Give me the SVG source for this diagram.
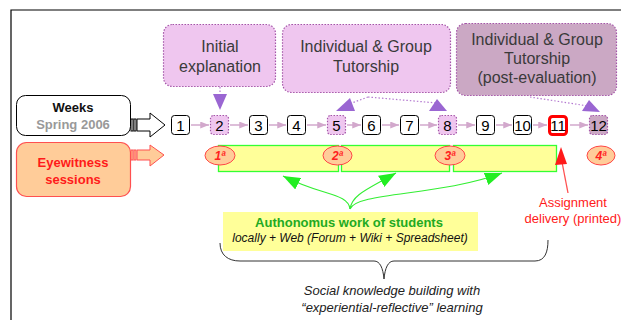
<svg xmlns="http://www.w3.org/2000/svg" width="621" height="320" viewBox="0 0 621 320">
<defs>
<style>
text{font-family:"Liberation Sans",Arial,sans-serif}
.frame{fill:none;stroke:#000;stroke-width:1.2}
.pinkbox{fill:#efc6ef;stroke:#a455a8;stroke-width:1.2;stroke-dasharray:1.5 1.5}
.mauvebox{fill:#cba8c4;stroke:#a455a8;stroke-width:1.2;stroke-dasharray:1.5 1.5}
.boxtxt{font-size:16px;fill:#3a3a3a;text-anchor:middle}
.wk{fill:#fff;stroke:#000;stroke-width:1}
.wkp{fill:#efc6ef;stroke:#a455a8;stroke-width:1.2;stroke-dasharray:1.5 1.5}
.wkm{fill:#cba8c4;stroke:#a455a8;stroke-width:1.2;stroke-dasharray:1.5 1.5}
.num{font-size:15px;fill:#000;text-anchor:middle}
.wline{stroke:#d2a8cc;stroke-width:1.5;fill:none}
.dot{stroke:#b47ad0;stroke-width:1.2;stroke-dasharray:1.5 2;fill:none}
.phead{fill:#9a66d2}
.oval{fill:#ffcc99;stroke:#ff4444;stroke-width:1}
.ord{font-size:12px;font-weight:bold;font-style:italic;fill:#ff2020;text-anchor:middle}
.ylw{fill:#ffff99;stroke:#33ff33;stroke-width:1.3}
.gline{stroke:#33ee33;stroke-width:1.1;fill:none}
</style>
<marker id="wa" viewBox="0 0 10 8" refX="10" refY="4" markerWidth="9" markerHeight="7" markerUnits="userSpaceOnUse" orient="auto">
<path d="M0,0 L10,4 L0,8 z" fill="#d2a8cc"/>
</marker>
<marker id="ga" viewBox="0 0 16 12" refX="16" refY="6" markerWidth="17" markerHeight="13" markerUnits="userSpaceOnUse" orient="auto">
<path d="M0,0 L16,6 L0,12 z" fill="#22ee22"/>
</marker>
</defs>
<rect width="621" height="320" fill="#fff"/>
<path class="frame" d="M11,320 L11,10 L621,10"/>

<g id="initial-explanation">
<rect class="pinkbox" x="163.5" y="24.5" width="112" height="62" rx="9"/>
<text class="boxtxt" x="220" y="52">Initial</text>
<text class="boxtxt" x="220" y="72">explanation</text>
</g>
<g id="tutorship">
<rect class="pinkbox" x="282.5" y="24.5" width="168" height="68" rx="9"/>
<text class="boxtxt" x="366" y="52">Individual &amp; Group</text>
<text class="boxtxt" x="366" y="72">Tutorship</text>
</g>
<g id="tutorship-post">
<rect class="mauvebox" x="456.5" y="23.5" width="160" height="72" rx="9"/>
<text class="boxtxt" x="537" y="45">Individual &amp; Group</text>
<text class="boxtxt" x="537" y="64">Tutorship</text>
<text class="boxtxt" x="537" y="83">(post-evaluation)</text>
</g>

<g id="weeks">
<rect x="16.5" y="95.5" width="114" height="40" rx="9" fill="#fff" stroke="#000" stroke-width="1"/>
<text x="73" y="112" font-size="13" font-weight="bold" fill="#111" text-anchor="middle">Weeks</text>
<text x="73" y="129" font-size="13" font-weight="bold" fill="#999" text-anchor="middle">Spring 2006</text>
</g>
<g id="eyewitness">
<rect x="16.5" y="142.5" width="114" height="54" rx="10" fill="#ffcc99" stroke="#ff5050" stroke-width="1.2"/>
<text x="73" y="167" font-size="13" font-weight="bold" fill="#ff1a1a" text-anchor="middle">Eyewitness</text>
<text x="73" y="184" font-size="13" font-weight="bold" fill="#ff1a1a" text-anchor="middle">sessions</text>
</g>

<g id="w1"><rect class="wk" x="171.5" y="115.5" width="18" height="19" rx="3"/><text class="num" x="180.5" y="131">1</text></g>
<g id="w2"><rect class="wkp" x="210.5" y="115.5" width="18" height="19" rx="3"/><text class="num" x="219.5" y="131">2</text></g>
<g id="w3"><rect class="wk" x="249.5" y="115.5" width="18" height="19" rx="3"/><text class="num" x="258.5" y="131">3</text></g>
<g id="w4"><rect class="wk" x="287.5" y="115.5" width="18" height="19" rx="3"/><text class="num" x="296.5" y="131">4</text></g>
<g id="w5"><rect class="wkp" x="327.5" y="115.5" width="18" height="19" rx="3"/><text class="num" x="336.5" y="131">5</text></g>
<g id="w6"><rect class="wk" x="362.5" y="115.5" width="18" height="19" rx="3"/><text class="num" x="371.5" y="131">6</text></g>
<g id="w7"><rect class="wk" x="400.5" y="115.5" width="18" height="19" rx="3"/><text class="num" x="409.5" y="131">7</text></g>
<g id="w8"><rect class="wkp" x="438.5" y="115.5" width="18" height="19" rx="3"/><text class="num" x="447.5" y="131">8</text></g>
<g id="w9"><rect class="wk" x="476.5" y="115.5" width="18" height="19" rx="3"/><text class="num" x="485.5" y="131">9</text></g>
<g id="w10"><rect class="wk" x="513.5" y="115.5" width="18" height="19" rx="3"/><text class="num" x="522.5" y="131">10</text></g>
<g id="w11"><rect x="549.5" y="116.5" width="17" height="18" rx="3" fill="#fff" stroke="#ff0000" stroke-width="3"/><text class="num" x="558" y="131">11</text></g>
<g id="w12"><rect class="wkm" x="589.5" y="115.5" width="18" height="19" rx="3"/><text class="num" x="598.5" y="131">12</text></g>

<g id="work-blocks">
<rect class="ylw" x="218.5" y="145.5" width="120" height="26"/>
<rect class="ylw" x="341.5" y="145.5" width="108" height="26"/>
<rect class="ylw" x="453.5" y="145.5" width="103" height="26"/>
</g>
<g id="s1"><ellipse class="oval" cx="220" cy="155.5" rx="15" ry="9.5"/><text class="ord" x="220" y="160">1ª</text></g>
<g id="s2"><ellipse class="oval" cx="337.5" cy="155.5" rx="14.5" ry="9.5"/><text class="ord" x="337.5" y="160">2ª</text></g>
<g id="s3"><ellipse class="oval" cx="450" cy="155.5" rx="15" ry="9.5"/><text class="ord" x="450" y="160">3ª</text></g>
<g id="s4"><ellipse class="oval" cx="601" cy="155.5" rx="14" ry="9.5"/><text class="ord" x="601" y="160">4ª</text></g>

<g id="authonomus">
<rect x="223" y="212" width="255" height="39" fill="#ffff99"/>
<text x="349" y="227" font-size="13" font-weight="bold" fill="#22aa22" text-anchor="middle">Authonomus work of students</text>
<text x="350" y="242" font-size="12" font-style="italic" fill="#111" text-anchor="middle">locally + Web (Forum + Wiki + Spreadsheet)</text>
</g>

<g id="social">
<text x="392" y="295" font-size="13" font-style="italic" fill="#222" text-anchor="middle">Social knowledge building with</text>
<text x="392" y="312" font-size="13" font-style="italic" fill="#222" text-anchor="middle">“experiential-reflective” learning</text>
</g>

<g id="assignment">
<text x="573" y="207" font-size="13" fill="#ff1a1a" text-anchor="middle">Assignment</text>
<text x="573" y="223" font-size="13" fill="#ff1a1a" text-anchor="middle">delivery (printed)</text>
</g>

<g id="connectors">
<!-- hollow arrows -->
<g fill="#fff" stroke="#000" stroke-width="1">
<polygon points="137,119 150,119 150,113 165,125 150,137 150,131 137,131"/>
<rect x="131" y="119" width="2" height="12"/>
<rect x="134" y="119" width="2" height="12"/>
</g>
<g fill="#ffcc99" stroke="#ff5050" stroke-width="1">
<polygon points="137,150 150,150 150,145 164,155 150,166 150,160 137,160"/>
<rect x="131" y="150" width="2" height="10"/>
<rect x="134" y="150" width="2" height="10"/>
</g>
<!-- week chain -->
<line class="wline" x1="191" y1="125" x2="209" y2="125" marker-end="url(#wa)"/>
<line class="wline" x1="230" y1="125" x2="248" y2="125" marker-end="url(#wa)"/>
<line class="wline" x1="269" y1="125" x2="286" y2="125" marker-end="url(#wa)"/>
<line class="wline" x1="307" y1="125" x2="326" y2="125" marker-end="url(#wa)"/>
<line class="wline" x1="347" y1="125" x2="361" y2="125" marker-end="url(#wa)"/>
<line class="wline" x1="382" y1="125" x2="399" y2="125" marker-end="url(#wa)"/>
<line class="wline" x1="420" y1="125" x2="437" y2="125" marker-end="url(#wa)"/>
<line class="wline" x1="458" y1="125" x2="475" y2="125" marker-end="url(#wa)"/>
<line class="wline" x1="496" y1="125" x2="512" y2="125" marker-end="url(#wa)"/>
<line class="wline" x1="533" y1="125" x2="547" y2="125" marker-end="url(#wa)"/>
<line class="wline" x1="570" y1="125" x2="588" y2="125" marker-end="url(#wa)"/>
<!-- purple dotted arrows -->
<line class="dot" x1="220" y1="87" x2="220" y2="94"/>
<polygon class="phead" points="213,94 227,94 220,110"/>
<path class="dot" d="M368,97 L349,104"/>
<polygon class="phead" points="336,111 350,98 355,111"/>
<path class="dot" d="M368,97 L437,103"/>
<polygon class="phead" points="429,111 437,99 447,111"/>
<path class="dot" d="M530,97 L588,106"/>
<polygon class="phead" points="582,111 589,100 600,112"/>
<!-- green arrows -->
<path class="gline" d="M350,209 C348,193 322,196 283,176" marker-end="url(#ga)"/>
<path class="gline" d="M350,209 C352,195 366,190 396,173" marker-end="url(#ga)"/>
<path class="gline" d="M350,209 C356,192 440,196 502,173" marker-end="url(#ga)"/>
<!-- red assignment arrow -->
<line x1="568" y1="193" x2="562" y2="162" stroke="#ff5050" stroke-width="1.3"/>
<polygon points="561,147 555,165 567,164" fill="#ff1a1a"/>
<!-- brace -->
<path d="M220,243 C220,255 228,261 240,261 L374,261 C380,261 383,268 384,279 C385,268 388,261 394,261 L535,261 C545,261 548,252 548,240" fill="none" stroke="#333" stroke-width="1"/>
</g>
</svg>
